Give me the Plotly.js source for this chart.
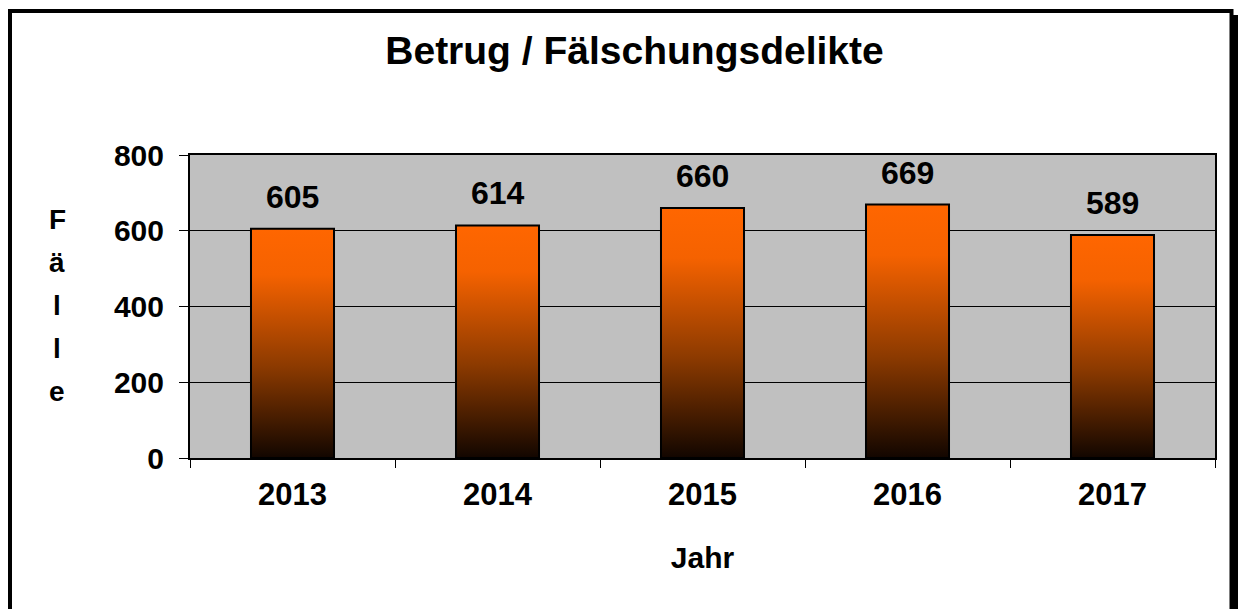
<!DOCTYPE html>
<html>
<head>
<meta charset="utf-8">
<script src="https://cdn.plot.ly/plotly-3.0.1.min.js"></script>
<style>
  html, body { margin: 0; padding: 0; background: #fff; }
  #chart { width: 1240px; height: 609px; }
</style>
</head>
<body>
<div id="chart"></div>
<script>
// ---- data ----
const chartTitle = "Betrug / Fälschungsdelikte";
const years = ["2013", "2014", "2015", "2016", "2017"];
const cases = [605, 614, 660, 669, 589];
const xTitle = "Jahr";
const yTitle = "Fälle";
const yTickValues = [0, 200, 400, 600, 800];

const FONT = "Arial, 'Liberation Sans', Helvetica, sans-serif";

// pixel helpers for layout (plot area 190..1215 x 155..458)
const L = 190, R = 1215, T = 155, B = 458;
const px2x = p => (p - L) / (R - L);
const px2y = p => (B - p) / (B - T);

const trace = {
  type: "bar",
  x: years,
  y: cases,
  marker: { color: "#FF6600", line: { color: "#000", width: 2 } },
  hoverinfo: "x+y"
};

const annotations = [];
// value labels above bars (x = category index on the category axis)
years.forEach((yr, i) => {
  annotations.push({
    x: i, y: cases[i], xref: "x", yref: "y",
    text: String(cases[i]), showarrow: false,
    xanchor: "center", yanchor: "bottom", yshift: 12,
    font: { family: FONT, size: 32, color: "#000", weight: "bold" }
  });
});
// vertical stacked y-axis title
yTitle.split("").forEach((ch, i) => {
  annotations.push({
    x: px2x(57), y: px2y(219 + i * 43), xref: "paper", yref: "paper",
    text: ch, showarrow: false, xanchor: "center", yanchor: "middle",
    font: { family: FONT, size: 28, color: "#000", weight: "bold" }
  });
});

const shapes = [
  // outer frame
  { type: "rect", xref: "paper", yref: "paper",
    x0: px2x(10), x1: px2x(1231.5), y0: px2y(11), y1: px2y(660),
    line: { color: "#000", width: 4 }, fillcolor: "rgba(0,0,0,0)", layer: "below" },
  // shadow right
  { type: "line", xref: "paper", yref: "paper",
    x0: px2x(1235.5), x1: px2x(1235.5), y0: px2y(15), y1: px2y(660),
    line: { color: "#000", width: 5 }, layer: "below" }
];

const layout = {
  width: 1240, height: 609,
  margin: { l: L, r: 1240 - R, t: T, b: 609 - B, pad: 0 },
  paper_bgcolor: "#fff",
  plot_bgcolor: "#C0C0C0",
  font: { family: FONT, color: "#000" },
  showlegend: false,
  bargap: 0.595,
  title: {
    text: chartTitle,
    font: { family: FONT, size: 39, color: "#000", weight: "bold" },
    x: 634.5 / 1240, xref: "container", xanchor: "center",
    y: 1 - 50 / 609, yref: "container", yanchor: "middle"
  },
  xaxis: {
    type: "category",
    categoryorder: "array", categoryarray: years,
    range: [-0.5, years.length - 0.5],
    tickson: "boundaries",
    ticks: "outside", ticklen: 8, tickwidth: 1, tickcolor: "#000",
    tickangle: 0,
    showline: true, linecolor: "#000", linewidth: 2, mirror: true,
    showgrid: false, zeroline: false,
    tickfont: { family: FONT, size: 31, color: "#000", weight: "bold" },
    ticklabelstandoff: 8,
    title: { text: xTitle, standoff: 36,
      font: { family: FONT, size: 30, color: "#000", weight: "bold" } },
    automargin: false,
    fixedrange: true
  },
  yaxis: {
    range: [0, 800],
    tickvals: yTickValues,
    ticks: "outside", ticklen: 9, tickwidth: 1, tickcolor: "#000",
    showline: true, linecolor: "#000", linewidth: 2, mirror: true,
    showgrid: true, gridcolor: "#000", gridwidth: 1,
    zeroline: false,
    tickfont: { family: FONT, size: 30, color: "#000", weight: "bold" },
    ticklabelstandoff: 9,
    automargin: false,
    fixedrange: true
  },
  annotations: annotations,
  shapes: shapes
};

function applyGradient(gd) {
  const svg = gd.querySelector("svg.main-svg");
  if (!svg) return;
  const NS = "http://www.w3.org/2000/svg";
  let defs = svg.querySelector("defs#barGradDefs");
  if (!defs) {
    defs = document.createElementNS(NS, "defs");
    defs.setAttribute("id", "barGradDefs");
    const lg = document.createElementNS(NS, "linearGradient");
    lg.setAttribute("id", "barGrad");
    lg.setAttribute("x1", "0"); lg.setAttribute("y1", "0");
    lg.setAttribute("x2", "0"); lg.setAttribute("y2", "1");
    [["0", "#FF6600"], ["0.2", "#F56200"], ["0.6", "#8C3A00"], ["1", "#120600"]].forEach(([o, c]) => {
      const s = document.createElementNS(NS, "stop");
      s.setAttribute("offset", o);
      s.setAttribute("stop-color", c);
      lg.appendChild(s);
    });
    defs.appendChild(lg);
    svg.insertBefore(defs, svg.firstChild);
  }
  gd.querySelectorAll(".barlayer .point path").forEach(p => {
    p.style.fill = "url(#barGrad)";
  });
}

Plotly.newPlot("chart", [trace], layout, { displayModeBar: false, staticPlot: true })
  .then(gd => { applyGradient(gd); });
</script>
</body>
</html>
